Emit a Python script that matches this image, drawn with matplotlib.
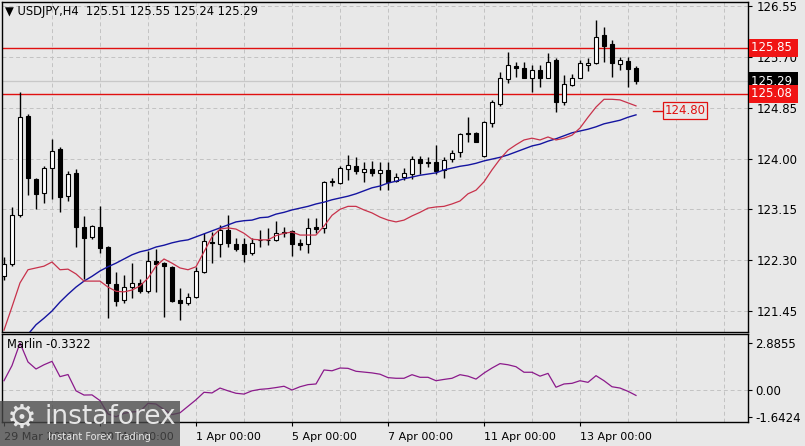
import matplotlib
matplotlib.use('Agg')
import matplotlib.pyplot as plt
from matplotlib.transforms import blended_transform_factory
from matplotlib.patches import Rectangle
import numpy as np

# ---------------- data ----------------
opens = [122.03, 122.24, 123.05, 124.71, 123.66, 123.42, 123.84, 124.16, 123.37, 123.76,
         122.85, 122.69, 122.85, 122.52, 121.90, 121.63, 121.85, 121.92, 121.78, 122.29,
         122.25, 122.19, 121.63, 121.58, 121.68, 122.10, 122.60, 122.57, 122.80, 122.57,
         122.57, 122.42, 122.64, 122.63, 122.64, 122.77, 122.79, 122.59, 122.57, 122.85,
         122.84, 123.61, 123.59, 123.82, 123.87, 123.77, 123.82, 123.76, 123.81, 123.62,
         123.69, 123.74, 123.99, 123.94, 123.94, 123.81, 123.99, 124.11, 124.43, 124.43,
         124.04, 124.59, 124.91, 125.33, 125.55, 125.51, 125.35, 125.48, 125.35, 125.65,
         124.94, 125.23, 125.35, 125.56, 125.60, 126.07, 125.91, 125.58, 125.63, 125.51]
highs = [122.35, 123.19, 125.11, 124.74, 123.68, 123.87, 124.33, 124.19, 123.79, 123.82,
         123.04, 122.89, 123.21, 122.54, 122.10, 122.05, 122.25, 121.98, 122.45, 122.49,
         122.27, 122.20, 121.83, 121.75, 122.19, 122.75, 122.77, 122.89, 123.05, 122.67,
         122.67, 122.67, 122.80, 122.84, 122.95, 122.85, 122.80, 122.65, 123.00, 123.00,
         123.62, 123.67, 123.87, 124.06, 124.03, 123.94, 123.96, 123.94, 123.94, 123.76,
         123.84, 124.04, 124.04, 124.03, 124.23, 124.02, 124.14, 124.43, 124.69, 124.44,
         124.62, 124.98, 125.45, 125.78, 125.61, 125.61, 125.56, 125.56, 125.76, 125.68,
         125.40, 125.41, 125.65, 125.68, 126.32, 126.20, 125.98, 125.70, 125.70, 125.55]
lows = [121.97, 122.20, 123.02, 123.39, 123.16, 123.26, 123.32, 123.11, 123.29, 122.52,
        121.98, 122.65, 122.42, 121.33, 121.53, 121.58, 121.67, 121.75, 121.75, 121.77,
        121.35, 121.60, 121.30, 121.55, 121.66, 122.08, 122.25, 122.35, 122.52, 122.45,
        122.27, 122.39, 122.52, 122.55, 122.62, 122.68, 122.37, 122.47, 122.42, 122.75,
        122.75, 123.54, 123.57, 123.64, 123.74, 123.61, 123.71, 123.47, 123.47, 123.61,
        123.64, 123.66, 123.74, 123.86, 123.74, 123.67, 123.94, 124.03, 124.28, 124.27,
        124.03, 124.53, 124.88, 125.26, 125.36, 125.35, 125.11, 125.20, 125.34, 124.78,
        124.89, 125.21, 125.34, 125.46, 125.58, 125.61, 125.36, 125.48, 125.20, 125.24]
closes = [122.24, 123.05, 124.69, 123.67, 123.41, 123.84, 124.13, 123.36, 123.74, 122.85,
          122.67, 122.87, 122.50, 121.92, 121.62, 121.85, 121.92, 121.78, 122.29, 122.24,
          122.20, 121.62, 121.58, 121.68, 122.12, 122.62, 122.59, 122.80, 122.59, 122.49,
          122.40, 122.59, 122.63, 122.64, 122.75, 122.76, 122.57, 122.55, 122.84, 122.82,
          123.61, 123.63, 123.84, 123.89, 123.79, 123.82, 123.76, 123.81, 123.61, 123.69,
          123.76, 123.99, 123.92, 123.93, 123.79, 123.97, 124.09, 124.41, 124.41, 124.28,
          124.61, 124.94, 125.35, 125.56, 125.51, 125.35, 125.48, 125.35, 125.61, 124.94,
          125.25, 125.35, 125.60, 125.60, 126.03, 125.88, 125.60, 125.65, 125.50, 125.29]

ma_red = [121.13, 121.52, 121.92, 122.14, 122.17, 122.20, 122.27, 122.14, 122.15, 122.07,
          121.95, 121.95, 121.95, 121.85, 121.78, 121.77, 121.80, 121.87, 122.00, 122.20,
          122.32, 122.25, 122.17, 122.14, 122.19, 122.44, 122.69, 122.82, 122.84, 122.82,
          122.75, 122.65, 122.64, 122.64, 122.71, 122.75, 122.77, 122.72, 122.72, 122.72,
          122.87, 123.05, 123.15, 123.20, 123.20, 123.14, 123.09, 123.02, 122.97, 122.94,
          122.97, 123.04, 123.10, 123.17, 123.19, 123.20, 123.24, 123.29, 123.41, 123.47,
          123.61, 123.81, 123.99, 124.14, 124.23, 124.31, 124.34, 124.31, 124.36, 124.31,
          124.34, 124.39, 124.51, 124.69, 124.86, 124.99, 124.99, 124.98, 124.93, 124.88]
ma_blue = [np.nan, np.nan, np.nan, 121.06, 121.22, 121.33, 121.45, 121.60, 121.73, 121.85,
           121.95, 122.03, 122.12, 122.19, 122.25, 122.32, 122.39, 122.44, 122.47, 122.52,
           122.55, 122.59, 122.62, 122.64, 122.69, 122.74, 122.79, 122.84, 122.89, 122.94,
           122.96, 122.97, 123.01, 123.02, 123.07, 123.10, 123.14, 123.17, 123.20, 123.24,
           123.27, 123.31, 123.34, 123.37, 123.41, 123.46, 123.51, 123.54, 123.59, 123.62,
           123.66, 123.69, 123.72, 123.74, 123.76, 123.81, 123.84, 123.87, 123.89, 123.92,
           123.96, 123.99, 124.02, 124.06, 124.11, 124.16, 124.21, 124.24, 124.29, 124.33,
           124.38, 124.43, 124.46, 124.49, 124.53, 124.58, 124.61, 124.64, 124.69, 124.73]
marlin = [0.57, 1.50, 2.8855, 1.72, 1.29, 1.55, 1.76, 0.82, 0.95, -0.05,
          -0.31, -0.30, -0.65, -1.47, -1.6424, -1.43, -1.35, -1.31, -0.82, -0.86,
          -1.20, -1.51, -1.40, -1.00, -0.60, -0.14, -0.18, 0.12, -0.05, -0.20,
          -0.25, -0.05, 0.04, 0.08, 0.15, 0.23, 0.00, 0.20, 0.33, 0.37,
          1.23, 1.18, 1.35, 1.33, 1.15, 1.10, 1.05, 0.97, 0.76, 0.72,
          0.72, 0.94, 0.78, 0.78, 0.57, 0.65, 0.72, 0.94, 0.85, 0.67,
          1.04, 1.35, 1.62, 1.55, 1.43, 1.09, 1.09, 0.85, 1.02, 0.17,
          0.37, 0.41, 0.57, 0.47, 0.88, 0.57, 0.20, 0.12, -0.08, -0.3322]

level_lines = [125.85, 125.08]
bid_price = 125.29
ma_label = 124.80
price_ticks = [121.45, 122.30, 123.15, 124.00, 124.85, 125.70, 126.55]
ind_ticks = [-1.6424, 0.00, 2.8855]
ind_tick_labels = ['-1.6424', '0.00', '2.8855']
time_tick_idx = [0, 12, 24, 36, 48, 60, 72]
time_tick_labels = ['29 Mar 2022', '30 Mar 00:00', '1 Apr 00:00', '5 Apr 00:00',
                    '7 Apr 00:00', '11 Apr 00:00', '13 Apr 00:00']
title = '\u25bc USDJPY,H4  125.51 125.55 125.24 125.29'
ind_title = 'Marlin -0.3322'

# ---------------- figure ----------------
BG = '#e8e8e8'
W, H = 805, 446
fig = plt.figure(figsize=(W / 100, H / 100), dpi=100, facecolor=BG)


def px_rect(x0, y0, x1, y1):
    return [x0 / W, 1 - y1 / H, (x1 - x0) / W, (y1 - y0) / H]


ax = fig.add_axes(px_rect(2, 2, 748, 332))
axi = fig.add_axes(px_rect(2, 334, 748, 422), sharex=ax)
for a in (ax, axi):
    a.set_facecolor(BG)
    for s in a.spines.values():
        s.set_color('black')
        s.set_linewidth(1.0)

n = len(opens)
x = np.arange(n)
o = np.array(opens); c = np.array(closes)
hi = np.array(highs); lo = np.array(lows)
up = c >= o

XMIN, XMAX = -0.25, 93.0
ax.set_xlim(XMIN, XMAX)
ax.set_ylim(121.099, 126.617)
axi.set_ylim(-1.964, 3.438)

grid_kw = dict(color='#c2c2c2', lw=0.7, ls=(0, (4, 3)), zorder=0)
for p in price_ticks:
    ax.axhline(p, **grid_kw)
for gx in range(6, 94, 6):
    ax.axvline(gx, **grid_kw)
    axi.axvline(gx, **grid_kw)
axi.axhline(0.0, **grid_kw)

# bid line
ax.axhline(bid_price, color='#c8c8c8', lw=0.9, zorder=0.5)
# level lines
for lv in level_lines:
    ax.axhline(lv, color='#e01010', lw=1.0, zorder=1)

# candles
ax.vlines(x, lo, hi, color='black', lw=1.0, zorder=2)
body_bottom = np.minimum(o, c)
body_h = np.maximum(np.abs(c - o), 0.012)
ax.bar(x, body_h, bottom=body_bottom, width=0.62,
       color=['white' if u else 'black' for u in up],
       edgecolor='black', linewidth=0.8, zorder=3)

# moving averages
ax.plot(x, ma_blue, color='#1414a0', lw=1.0, zorder=4)
ax.plot(x, ma_red, color='#c8324b', lw=0.9, zorder=4)

# indicator
axi.plot(x, marlin, color='#8b1a8b', lw=0.9, zorder=3)

# ticks
ax.yaxis.tick_right()
ax.set_yticks(price_ticks)
ax.set_yticklabels(['%.2f' % p for p in price_ticks])
ax.tick_params(axis='y', direction='out', length=3, pad=3, labelsize=8.5, colors='black')
ax.tick_params(axis='x', bottom=False, labelbottom=False)

axi.yaxis.tick_right()
axi.set_yticks(ind_ticks)
axi.set_yticklabels(ind_tick_labels)
axi.tick_params(axis='y', direction='out', length=3, pad=2, labelsize=8.5)
axi.set_xticks(time_tick_idx)
axi.set_xticklabels(time_tick_labels)
axi.tick_params(axis='x', direction='out', length=3, pad=4, labelsize=8)
for lab in axi.get_xticklabels():
    lab.set_ha('left')

# right-hand price boxes
tr = blended_transform_factory(ax.transAxes, ax.transData)
for val, fc in [(level_lines[0], '#f01414'), (bid_price, 'black'), (level_lines[1], '#f01414')]:
    ax.text(1.004, val, '%.2f ' % val, transform=tr, ha='left', va='center',
            fontsize=8.5, color='white', zorder=10,
            bbox=dict(boxstyle='square,pad=0.2', fc=fc, ec='none'))

# MA label
ax.plot([81.1, 82.4], [ma_label, ma_label], color='#e01010', lw=1.0, zorder=4, clip_on=False)
ax.text(82.55, ma_label, '%.2f' % ma_label, ha='left', va='center', fontsize=8.5,
        color='#e01010', zorder=5,
        bbox=dict(boxstyle='square,pad=0.15', fc=BG, ec='#e01010', lw=0.9))

# titles
fig.text(5 / W, 1 - 12 / H, title, ha='left', va='center', fontsize=8.3, color='black')
fig.text(7 / W, 1 - 345 / H, ind_title, ha='left', va='center', fontsize=8.3, color='black')

# watermark
fig.add_artist(Rectangle((0, 0), 180 / W, 45 / H, transform=fig.transFigure,
                         facecolor='#4a4a4a', edgecolor='none', alpha=0.78, zorder=20))
fig.text(22 / W, 1 - 418 / H, '\u2699', ha='center', va='center', fontsize=24,
         color='#e6e6e6', zorder=21)
fig.text(44 / W, 1 - 417 / H, 'instaforex', ha='left', va='center', fontsize=19,
         color='#e6e6e6', zorder=21)
fig.text(48 / W, 1 - 437 / H, 'Instant Forex Trading', ha='left', va='center', fontsize=7,
         color='#e6e6e6', zorder=21)

fig.savefig('out.png', dpi=100, facecolor=BG)
